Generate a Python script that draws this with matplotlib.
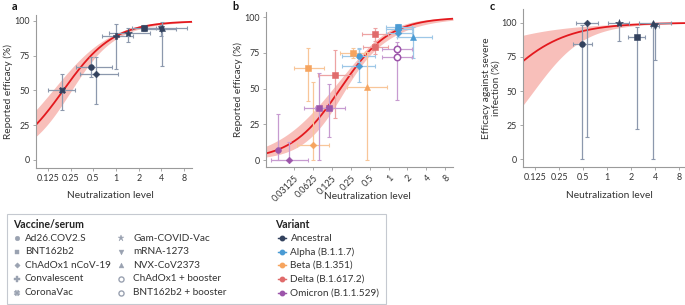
import numpy as np
import matplotlib
matplotlib.use('Agg')
import matplotlib.pyplot as plt
from matplotlib.ticker import NullLocator

plt.rcParams['font.family'] = ['Lato', 'DejaVu Sans']

# ------------------------------------------------------------------ data
# Panel a: ancestral virus, reported efficacy
a_vaccine = ['CoronaVac', 'Ad26.COV2.S', 'ChAdOx1 nCoV-19', 'Convalescent',
             'Gam-COVID-Vac', 'BNT162b2', 'mRNA-1273', 'NVX-CoV2373']
a_neut    = [0.19, 0.47, 0.55, 1.00, 1.45, 2.35, 3.95, 4.10]
a_neut_lo = [0.125, 0.30, 0.33, 0.65, 0.81, 1.65, 2.45, 2.60]
a_neut_hi = [0.29, 0.88, 1.06, 1.70, 2.85, 3.40, 6.20, 8.80]
a_eff     = [50.4, 67.2, 62.0, 89.2, 91.6, 94.9, 94.1, 95.0]
a_eff_lo  = [36.0, 60.0, 40.3, 65.3, 85.1, 93.0, 89.3, 67.8]
a_eff_hi  = [61.6, 74.3, 74.3, 97.8, 94.7, 97.0, 96.8, 99.4]

# Panel b: variants of concern
b_variant = ['Alpha', 'Alpha', 'Alpha', 'Alpha', 'Alpha', 'Alpha',
             'Beta', 'Beta', 'Beta', 'Beta',
             'Delta', 'Delta', 'Delta',
             'Omicron', 'Omicron', 'Omicron', 'Omicron', 'Omicron', 'Omicron']
b_vaccine = ['BNT162b2', 'Ad26.COV2.S', 'ChAdOx1 nCoV-19', 'NVX-CoV2373', 'Ad26.COV2.S', 'ChAdOx1 nCoV-19',
             'BNT162b2', 'BNT162b2', 'NVX-CoV2373', 'ChAdOx1 nCoV-19',
             'BNT162b2', 'BNT162b2', 'BNT162b2',
             'ChAdOx1 + booster', 'BNT162b2 + booster', 'BNT162b2', 'BNT162b2', 'Ad26.COV2.S', 'ChAdOx1 nCoV-19']
b_neut    = [1.43, 1.43, 1.43, 2.48, 0.34, 0.34,
             0.268, 0.052, 0.448, 0.063,
             0.61, 0.61, 0.14,
             1.38, 1.38, 0.078, 0.113, 0.0173, 0.026]
b_neut_lo = [0.90, 0.90, 0.90, 1.35, 0.183, 0.183,
             0.167, 0.031, 0.215, 0.034,
             0.37, 0.39, 0.075,
             0.80, 0.80, 0.045, 0.067, 0.0173, 0.0132]
b_neut_hi = [2.35, 2.35, 2.35, 4.90, 0.61, 0.61,
             0.42, 0.094, 0.93, 0.112,
             0.97, 0.99, 0.264,
             2.35, 2.35, 0.123, 0.200, 0.0173, 0.051]
b_eff     = [93.5, 91.5, 89.0, 86.0, 72.9, 66.1,
             74.8, 64.3, 51.2, 10.5,
             88.1, 79.0, 59.6,
             77.8, 72.0, 36.2, 36.2, 7.0, 0.0]
b_eff_lo  = [90.0, 88.0, 86.0, 71.3, 68.5, 54.7,
             71.3, 41.3, 0.0, 0.0,
             83.4, 74.5, 29.2,
             72.0, 42.0, 0.0, 16.3, 0.0, 0.0]
b_eff_hi  = [95.5, 94.0, 92.0, 93.4, 77.8, 78.5,
             78.7, 78.7, 76.0, 54.9,
             92.7, 82.0, 77.1,
             83.0, 80.0, 60.7, 53.3, 32.2, 12.8]

# Panel c: efficacy against severe infection (ancestral)
c_vaccine = ['Ad26.COV2.S', 'ChAdOx1 nCoV-19', 'Gam-COVID-Vac', 'BNT162b2', 'NVX-CoV2373', 'mRNA-1273']
c_neut    = [0.48, 0.555, 1.40, 2.35, 3.80, 3.97]
c_neut_lo = [0.37, 0.41, 1.03, 1.84, 2.50, 3.50]
c_neut_hi = [0.64, 0.76, 1.89, 2.99, 6.40, 4.50]
c_eff     = [84.7, 100.0, 100.0, 89.5, 99.5, 97.5]
c_eff_lo  = [0.0, 16.0, 86.4, 21.9, 0.0, 72.5]
c_eff_hi  = [98.0, 100.0, 100.0, 97.0, 100.0, 99.3]

# fitted logistic models (in log10 neutralisation): n50, slope, CI shape
a_fit = dict(n50=0.20, k=3.0, s0=0.20, s1=0.44, lc=0.0)
b_fit = dict(n50=0.17, k=2.55, s0=0.18, s1=0.50, lc=-0.4)
c_fit = dict(n50=0.036, k=2.4, s0=0.50, s1=0.81, lc=0.5)

# ticks
a_ticks = [0.125, 0.25, 0.5, 1, 2, 4, 8]
a_tick_labels = ['0.125', '0.25', '0.5', '1', '2', '4', '8']
b_ticks = [0.03125, 0.0625, 0.125, 0.25, 0.5, 1, 2, 4, 8]
b_tick_labels = ['0.03125', '0.0625', '0.125', '0.25', '0.5', '1', '2', '4', '8']
y_ticks = [0, 25, 50, 75, 100]

# legend content
vaccine_names = ['Ad26.COV2.S', 'BNT162b2', 'ChAdOx1 nCoV-19', 'Convalescent', 'CoronaVac',
                 'Gam-COVID-Vac', 'mRNA-1273', 'NVX-CoV2373', 'ChAdOx1 + booster', 'BNT162b2 + booster']
variant_names = ['Ancestral', 'Alpha', 'Beta', 'Delta', 'Omicron']
variant_labels = ['Ancestral', 'Alpha (B.1.1.7)', 'Beta (B.1.351)', 'Delta (B.1.617.2)', 'Omicron (B.1.1.529)']

# ------------------------------------------------------------------ styles
markers = {'Ad26.COV2.S': ('o', 4.2), 'BNT162b2': ('s', 4.0), 'ChAdOx1 nCoV-19': ('D', 3.4),
           'Convalescent': ('P', 4.6), 'CoronaVac': ('X', 4.8), 'Gam-COVID-Vac': ('*', 6.0),
           'mRNA-1273': ('v', 4.4), 'NVX-CoV2373': ('^', 4.4),
           'ChAdOx1 + booster': ('o', 4.6), 'BNT162b2 + booster': ('o', 4.6)}
open_markers = {'ChAdOx1 + booster', 'BNT162b2 + booster'}
var_color = {'Ancestral': '#33425e', 'Alpha': '#4a9bd4', 'Beta': '#f6a45e',
             'Delta': '#e06b6b', 'Omicron': '#9c55aa'}
var_err = {'Ancestral': '#8c98ad', 'Alpha': '#9dc7e7', 'Beta': '#f8c699',
           'Delta': '#eda3a3', 'Omicron': '#c79bd0'}
CURVE = '#e3191e'
BAND = '#f7b4ae'
SPINE = '#9b9b9b'
TXT = '#333333'
TICK_FS = 6.4
LAB_FS = 7.3
LEG_FS = 7.2

W, H = 685, 305
fig = plt.figure(figsize=(W / 100, H / 100), dpi=100)


def add_axes_px(l, t, r, b):
    return fig.add_axes([l / W, 1 - b / H, (r - l) / W, (b - t) / H])


def model(xs, fit):
    L = np.log10(xs)
    eta = fit['k'] * (L - np.log10(fit['n50']))
    se = np.sqrt(fit['s0'] ** 2 + fit['s1'] ** 2 * (L - fit['lc']) ** 2)
    f = lambda e: 100 / (1 + np.exp(-e))
    return f(eta), f(eta - se), f(eta + se)


def style(ax, ticks, labels, xlim, ylim, rot=False):
    ax.set_xscale('log', base=2)
    ax.set_xlim(*xlim)
    ax.set_ylim(*ylim)
    ax.set_xticks(ticks)
    if rot:
        ax.set_xticklabels(labels, rotation=45, ha='right', va='top', rotation_mode='anchor')
    else:
        ax.set_xticklabels(labels)
    ax.xaxis.set_minor_locator(NullLocator())
    ax.set_yticks(y_ticks)
    for s in ['top', 'right']:
        ax.spines[s].set_visible(False)
    for s in ['left', 'bottom']:
        ax.spines[s].set_color(SPINE)
        ax.spines[s].set_linewidth(0.8)
    ax.tick_params(axis='both', length=2.5, width=0.6, color=SPINE, labelsize=TICK_FS,
                   labelcolor=TXT, pad=2)
    ax.patch.set_alpha(0)


def draw_curve(ax, xlim, fit):
    xs = np.geomspace(xlim[0], xlim[1], 300)
    m, lo, hi = model(xs, fit)
    ax.fill_between(xs, lo, hi, color=BAND, lw=0, alpha=0.85, zorder=1)
    ax.plot(xs, m, color=CURVE, lw=1.3, zorder=2)


def draw_points(ax, vaccines, variants, x, xlo, xhi, y, ylo, yhi):
    for i in range(len(x)):
        v = variants[i]
        mk, ms = markers[vaccines[i]]
        ax.errorbar([x[i]], [y[i]],
                    xerr=[[x[i] - xlo[i]], [xhi[i] - x[i]]],
                    yerr=[[y[i] - ylo[i]], [yhi[i] - y[i]]],
                    fmt='none', ecolor=var_err[v], elinewidth=0.9, capsize=1.6,
                    capthick=0.8, zorder=3, clip_on=False)
        face = 'white' if vaccines[i] in open_markers else var_color[v]
        ax.plot([x[i]], [y[i]], marker=mk, ms=ms, mfc=face, mec=var_color[v],
                mew=1.1 if face == 'white' else 0.4, ls='none', zorder=4, clip_on=False)


def labels(ax, ylab, ylx, xlx, xly):
    ax.set_ylabel(ylab, fontsize=LAB_FS, color=TXT, linespacing=1.1)
    ax.yaxis.set_label_coords(ylx, 0.5)
    ax.yaxis.label.set_va('center')
    ax.set_xlabel('Neutralization level', fontsize=LAB_FS, color=TXT)
    ax.xaxis.set_label_coords(xlx, xly)
    ax.xaxis.label.set_va('center')


# ---------------- panel a
a_xlim = (2 ** -3.52, 2 ** 3.35)
axa = add_axes_px(36, 15, 192, 168)
style(axa, a_ticks, a_tick_labels, a_xlim, (-5.8, 104.3))
draw_curve(axa, a_xlim, a_fit)
draw_points(axa, a_vaccine, ['Ancestral'] * len(a_neut), a_neut, a_neut_lo, a_neut_hi,
            a_eff, a_eff_lo, a_eff_hi)
labels(axa, 'Reported efficacy (%)', (8.0 - 36) / 156, (110.3 - 36) / 156, (168 - 196) / 153)

# ---------------- panel b
b_xlim = (2 ** -6.52, 2 ** 3.42)
axb = add_axes_px(265.7, 11.7, 453, 167.3)
style(axb, b_ticks, b_tick_labels, b_xlim, (-5.1, 103.9), rot=True)
draw_curve(axb, b_xlim, b_fit)
draw_points(axb, b_vaccine, b_variant, b_neut, b_neut_lo, b_neut_hi, b_eff, b_eff_lo, b_eff_hi)
labels(axb, 'Reported efficacy (%)', (238.3 - 265.7) / 187.3, (367.5 - 265.7) / 187.3,
       (167.3 - 196) / 155.6)

# ---------------- panel c
c_xlim = (2 ** -3.49, 2 ** 3.24)
axc = add_axes_px(523.3, 9.3, 685, 166.7)
style(axc, a_ticks, a_tick_labels, c_xlim, (-5.4, 109.8))
draw_curve(axc, c_xlim, c_fit)
draw_points(axc, c_vaccine, ['Ancestral'] * len(c_neut), c_neut, c_neut_lo, c_neut_hi,
            c_eff, c_eff_lo, c_eff_hi)
labels(axc, 'Efficacy against severe\ninfection (%)', (491.5 - 523.3) / 161.7,
       (609.2 - 523.3) / 161.7, (166.7 - 196) / 157.4)

# panel letters
for lab, (px, py) in zip(['a', 'b', 'c'], [(15, 6), (235, 6), (492, 6)]):
    fig.text(px / W, 1 - py / H, lab, fontsize=7.8, fontweight='bold', ha='center',
             va='center', color='#111111')

# ---------------- legend (drawn in a pixel-coordinate overlay axes)
lg = fig.add_axes([0, 0, 1, 1])
lg.set_xlim(0, W)
lg.set_ylim(H, 0)
lg.axis('off')
lg.add_patch(plt.Rectangle((7.5, 213.5), 379, 90.5, fill=False, ec='#c5c9d0', lw=0.8))
LEG_GRAY = '#9aa2b1'
row_y = [238.3, 252.0, 265.3, 278.7, 292.7]
lg.text(13, 225, 'Vaccine/serum', fontsize=LEG_FS + 0.4, fontweight='bold', va='center',
        color='#222222')
for i, name in enumerate(vaccine_names):
    col, row = divmod(i, 5)
    mx = 16.7 if col == 0 else 121.5
    tx = 25.0 if col == 0 else 133.5
    mk, ms = markers[name]
    face = 'white' if name in open_markers else LEG_GRAY
    lg.plot([mx], [row_y[row]], marker=mk, ms=ms * 0.8, mfc=face, mec=LEG_GRAY,
            mew=1.0 if face == 'white' else 0.3, ls='none')
    lg.text(tx, row_y[row], name, fontsize=LEG_FS, va='center', color=TXT)
lg.text(275, 225, 'Variant', fontsize=LEG_FS + 0.4, fontweight='bold', va='center',
        color='#222222')
for i, (v, lab) in enumerate(zip(variant_names, variant_labels)):
    lg.plot([278.5, 286.5], [row_y[i], row_y[i]], color=var_color[v], lw=1.0)
    lg.plot([282.5], [row_y[i]], marker='o', ms=3.2, color=var_color[v], ls='none')
    lg.text(290.5, row_y[i], lab, fontsize=LEG_FS, va='center', color=TXT)

fig.savefig('out.png', dpi=100)
